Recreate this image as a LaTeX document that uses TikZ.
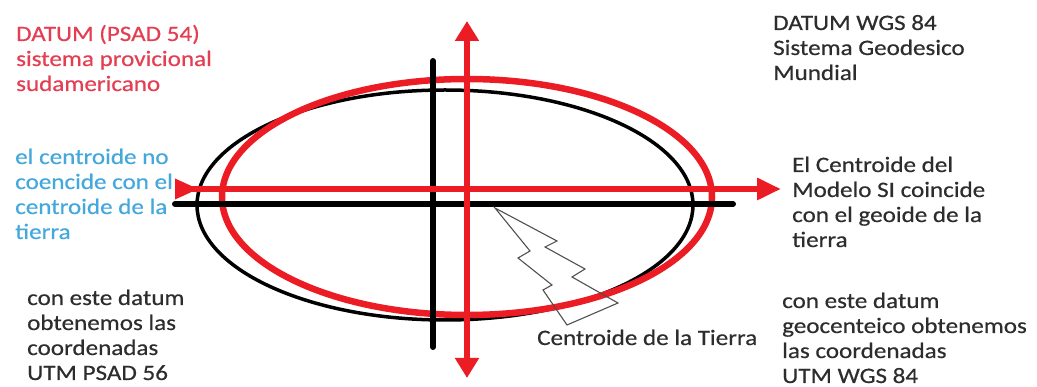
\documentclass[tikz,border=0pt]{standalone}
\usepackage{fontspec}
\setmainfont{Carlito}[FakeStretch=1.14,FakeBold=0.5]
\usetikzlibrary{arrows.meta}
\definecolor{paintred}{RGB}{236,28,36}
\definecolor{txtred}{RGB}{228,62,82}
\definecolor{txtblue}{RGB}{68,168,220}
\definecolor{txtdark}{RGB}{45,45,45}
\definecolor{boltgray}{RGB}{80,80,80}
\newcommand\txtblock[1]{\begin{tabular}[t]{@{}l@{}}#1\end{tabular}}
\tikzset{
  lbl/.style={anchor=base west, inner sep=0pt, font=\fontsize{22}{25}\selectfont},
  blackaxis/.style={draw=black, line width=6pt, line cap=round},
  bolt/.style={draw=boltgray, line width=1.1pt, line join=miter}
}
\begin{document}
\begin{tikzpicture}[x=1pt,y=-1pt]
\useasboundingbox (0,0) rectangle (1037,387);
% ellipses
\draw[black, line width=3.5pt] (445,205) ellipse [x radius=248, y radius=115];
\draw[paintred, line width=6.5pt] (467,197) ellipse [x radius=245, y radius=118];
% black axes
\coordinate (bl) at (175,204);
\coordinate (br) at (733,204);
\coordinate (bt) at (433,61);
\coordinate (bb) at (433,347);
\draw[blackaxis] (bl) -- (br);
\draw[blackaxis] (bt) -- (bb);
% red axes
\coordinate (rl) at (175,189);
\coordinate (rr) at (781,189);
\coordinate (rt) at (467,21);
\coordinate (rb) at (467,378);
\draw[draw=paintred, line width=6.5pt,
  arrows={Triangle[reversed,length=24pt,width=19pt]-Triangle[length=24pt,width=21pt]}] (rl) -- (rr);
\draw[draw=paintred, line width=6.5pt,
  arrows={Triangle[length=20pt,width=23pt]-Triangle[length=20pt,width=23pt]}] (rb) -- (rt);
% lightning bolt
\draw[bolt] (495,208) -- (557,241) -- (545,247) -- (585,269) -- (572,277)
  -- (618,303) -- (567,325) -- (543,290) -- (552,285) -- (518,258)
  -- (530,251) -- cycle;
% texts
\node[lbl, text=txtred] (psad) at (16,41)
  {\txtblock{DATUM (PSAD 54)\\sistema provicional\\sudamericano}};
\node[lbl, text=txtdark] (wgs) at (773,30)
  {\txtblock{DATUM WGS 84\\Sistema Geodesico\\Mundial}};
\node[lbl, text=txtblue] (nocoin) at (15,164)
  {\txtblock{el centroide no\\coencide con el\\centroide de la\\tierra}};
\node[lbl, text=txtdark] (coin) at (792,172)
  {\txtblock{El Centroide del\\Modelo SI coincide\\con el geoide de la\\tierra}};
\node[lbl, text=txtdark] (utmpsad) at (27,305)
  {\txtblock{con este datum\\obtenemos las\\coordenadas\\UTM PSAD 56}};
\node[lbl, text=txtdark] (utmwgs) at (782,308)
  {\txtblock{con este datum\\geocenteico obtenemos\\las coordenadas\\UTM WGS 84}};
\node[lbl, text=txtdark] (tierra) at (537,345) {Centroide de la Tierra};
\end{tikzpicture}
\end{document}
